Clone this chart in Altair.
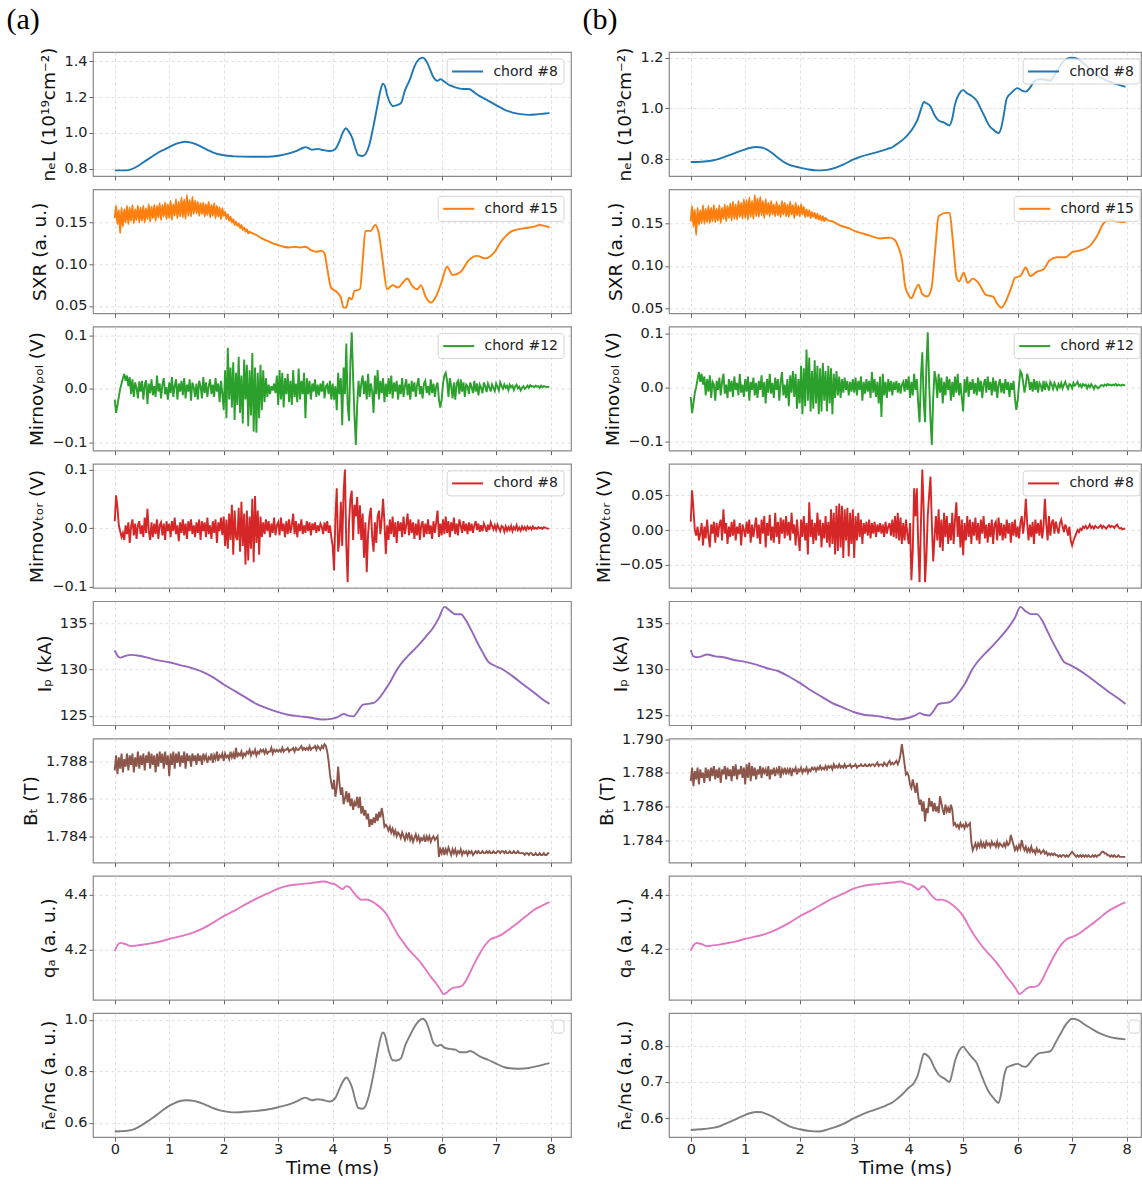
import altair as alt
import pandas as pd

FONT = "DejaVu Sans"
DT = 0.025

# ======================= column (a) =======================
neL_a = [(0.0,0.79),(0.1,0.79),(0.2,0.79),(0.3,0.795),(0.4,0.81),(0.5,0.83),(0.6,0.85),(0.7,0.87),
         (0.8,0.89),(0.9,0.905),(1.0,0.92),(1.1,0.935),(1.2,0.945),(1.3,0.95),(1.4,0.945),(1.5,0.935),
         (1.6,0.92),(1.7,0.905),(1.8,0.89),(1.9,0.88),(2.0,0.875),(2.2,0.868),(2.5,0.866),(2.8,0.866),
         (3.0,0.872),(3.2,0.885),(3.35,0.9),(3.45,0.915),(3.5,0.92),(3.55,0.915),(3.62,0.905),(3.72,0.91),
         (3.8,0.905),(3.95,0.898),(4.05,0.91),(4.12,0.95),(4.2,1.01),(4.24,1.025),(4.3,1.005),(4.36,0.97),
         (4.42,0.91),(4.47,0.875),(4.55,0.87),(4.6,0.88),(4.67,0.93),(4.75,1.04),(4.82,1.15),(4.88,1.24),
         (4.92,1.275),(4.96,1.26),(5.0,1.21),(5.05,1.17),(5.1,1.15),(5.18,1.155),(5.25,1.165),(5.33,1.24),
         (5.42,1.3),(5.5,1.37),(5.58,1.41),(5.65,1.42),(5.72,1.40),(5.78,1.36),(5.85,1.31),(5.92,1.29),
         (5.98,1.30),(6.03,1.29),(6.1,1.275),(6.2,1.26),(6.3,1.25),(6.4,1.245),(6.5,1.245),(6.6,1.225),
         (6.7,1.205),(6.85,1.18),(7.0,1.155),(7.15,1.13),(7.3,1.113),(7.45,1.104),(7.6,1.10),(7.75,1.103),
         (7.9,1.108),(7.98,1.11)]

sxr_a_noisy = [0.155,0.170,0.148,0.165,0.137,0.168,0.145,0.166,0.150,0.170,
               0.148,0.168,0.152,0.171,0.149,0.166,0.153,0.170,0.150,0.168,
               0.152,0.170,0.150,0.167,0.154,0.172,0.151,0.169,0.155,0.171,
               0.152,0.170,0.156,0.173,0.153,0.171,0.157,0.174,0.154,0.172,
               0.155,0.176,0.153,0.172,0.158,0.178,0.155,0.175,0.157,0.180,
               0.156,0.178,0.154,0.183,0.158,0.177,0.157,0.181,0.160,0.176,
               0.161,0.175,0.158,0.173,0.160,0.174,0.157,0.172,0.159,0.175,
               0.156,0.171,0.158,0.173,0.155,0.170,0.157,0.168,0.154,0.167,
               0.158,0.163,0.154,0.160,0.152,0.157,0.150,0.154,0.147,0.151,
               0.146,0.149,0.143,0.147,0.141,0.144,0.139,0.142,0.137,0.139]
sxr_a_rest = [(2.5,0.138),(2.6,0.135),(2.7,0.131),(2.8,0.128),(2.9,0.125),(3.0,0.123),(3.1,0.121),
              (3.2,0.120),(3.3,0.121),(3.4,0.120),(3.5,0.121),(3.6,0.117),(3.7,0.115),(3.8,0.116),
              (3.85,0.113),(3.9,0.095),(3.97,0.072),(4.05,0.068),(4.15,0.060),(4.2,0.048),(4.25,0.048),
              (4.3,0.060),(4.35,0.058),(4.4,0.068),(4.5,0.070),(4.55,0.103),(4.6,0.140),(4.7,0.140),
              (4.78,0.147),(4.85,0.136),(4.92,0.103),(5.0,0.070),(5.1,0.075),(5.2,0.072),(5.3,0.079),
              (5.37,0.083),(5.45,0.075),(5.55,0.070),(5.62,0.075),(5.7,0.062),(5.8,0.054),(5.9,0.062),
              (6.0,0.079),(6.1,0.097),(6.2,0.087),(6.35,0.091),(6.5,0.105),(6.65,0.110),(6.8,0.107),
              (6.95,0.113),(7.1,0.128),(7.3,0.140),(7.5,0.143),(7.7,0.145),(7.8,0.147),(7.98,0.144)]

mirnov_pol_a_mV = [
    -20,-45,-30,-15,0,10,20,28,15,25, 5,22,-10,18,-15,12,2,-18,14,-5,
    15,-20,8,16,-28,10,-8,18,-12,5, -15,25,-5,10,-18,8,20,-10,3,-20,
    12,-8,22,-15,5,18,-20,10,-5,15, -12,20,-18,8,-5,18,-22,12,3,-15,
    10,-20,15,5,-18,22,-8,12,-15,5, 18,-10,8,-15,20,-5,10,-25,15,-10,
    -40,35,-55,77,-20,40,-35,50,-58,30, -30,60,-45,25,-65,55,-20,45,-70,35,
    -50,67,-80,40,-82,30,-55,45,-40,35, -25,20,-15,8,-10,5,-3,10,-8,25,
    -30,35,-20,30,-35,20,-10,28,-25,15, -30,35,-15,10,-25,38,-20,15,-10,30,
    -55,20,-10,15,-20,10,-5,18,-15,8, -12,10,-5,15,-18,5,8,-10,15,-20,
    10,-20,5,-40,30,-10,20,-68,40,-10, 85,-30,-60,50,106,20,-50,-105,-30,15,
    -15,10,25,-10,15,-20,28,-15,10,-5, -45,25,-10,35,-20,15,-8,20,-25,10,
    -15,20,-10,25,-18,12,-5,15,-20,8, -10,20,-15,5,18,-12,10,-20,15,-5,
    12,-15,8,20,-10,5,-18,10,15,-8, 5,-12,18,-8,10,-15,5,12,-20,-35,
    -20,10,25,30,15,-15,20,5,-18,12, -20,10,15,-10,18,-5,12,-15,8,5,
    -10,12,3,-8,15,-5,10,-12,8,2, -8,12,5,-6,10,3,-5,8,2,-4,
    10,4,-3,12,5,0,8,2,6,-2, 8,3,6,-2,5,8,1,4,-3,2,
    5,0,3,6,2,7,4,5,3,6, 4,5,2,6,3,5,4,3,4,3]

mirnov_tor_a_mV = [
    12,56,35,5,-5,-15,-8,-20,5,-10, 10,-25,3,15,-12,8,-18,5,12,-10,
    5,-15,18,-8,33,-5,-20,10,-15,8, -10,15,-18,5,10,-12,8,-20,12,-5,
    8,-15,12,-5,18,-10,5,-22,10,-8, 15,-12,8,-18,12,-5,15,-10,5,-15,
    10,-8,15,-20,12,-5,10,-15,18,-10, 5,-18,12,-8,15,-25,10,-5,18,-12,
    20,-30,15,-35,25,-20,40,-45,30,-15, -20,35,-40,45,-30,25,-62,30,-55,20,
    -35,50,-58,55,-25,30,-45,20,-15,10, -10,15,-5,12,-15,8,-8,18,-12,5,
    10,-12,18,-5,8,-15,12,-10,15,-8, 5,25,-10,12,-15,8,-5,15,-10,5,
    -8,12,-5,10,-12,8,-3,10,-8,5, -5,8,3,-10,10,-5,12,-8,5,-15,
    -30,-72,20,68,-40,-20,45,-30,60,100, -30,-92,10,50,64,-20,40,20,53,-10,
    39,-20,25,-50,10,-75,-10,20,35,-15, -40,10,-25,20,30,-10,15,50,10,-44,
    5,-20,15,-10,20,-15,10,-25,12,-5, 10,-15,20,-10,5,25,-12,15,-8,10,
    -18,8,-12,15,-20,5,12,-15,8,-10, 15,-10,5,-18,12,-8,10,30,-15,8,
    -12,15,-10,20,-8,12,-15,10,-5,18, -10,8,-12,15,5,-8,12,-5,8,-10,
    10,-5,8,-8,5,12,-3,8,-6,5, -5,8,2,-6,6,-3,10,4,-2,5,
    -3,6,0,-5,4,2,-6,3,-4,2, -3,4,-5,2,-2,5,-3,1,-4,3,
    -2,2,-3,3,-1,2,-2,3,-1,1, -1,2,0,1,-1,2,1,0,-1,0]

ip_a = [(0.0,132.1),(0.05,131.5),(0.1,131.3),(0.2,131.5),(0.3,131.6),(0.45,131.5),(0.6,131.3),(0.8,131.0),
        (1.0,130.8),(1.2,130.5),(1.4,130.2),(1.6,129.8),(1.8,129.2),(2.0,128.4),(2.2,127.7),(2.4,127.0),
        (2.6,126.3),(2.8,125.8),(3.0,125.4),(3.2,125.1),(3.4,124.95),(3.6,124.8),(3.8,124.6),(4.0,124.7),
        (4.1,124.9),(4.2,125.2),(4.3,125.0),(4.38,124.95),(4.45,125.4),(4.55,126.2),(4.65,126.3),(4.75,126.4),
        (4.85,126.9),(4.95,127.7),(5.05,128.6),(5.15,129.7),(5.25,130.6),(5.4,131.6),(5.55,132.5),(5.7,133.5),
        (5.85,134.6),(5.95,135.6),(6.05,136.8),(6.15,136.4),(6.25,136.0),(6.35,136.0),(6.45,135.3),(6.55,134.2),
        (6.65,133.0),(6.75,131.9),(6.85,130.9),(6.95,130.5),(7.1,130.1),(7.3,129.3),(7.5,128.4),(7.7,127.5),
        (7.85,126.8),(7.98,126.3)]

bt_a = [
    1.7875,1.7883,1.7873,1.7882,1.7876,1.7884,1.7874,1.7881,1.7877,1.7884,
    1.7875,1.7883,1.7878,1.7884,1.7874,1.7882,1.7877,1.7885,1.7876,1.7883,
    1.7878,1.7884,1.7875,1.7883,1.7879,1.7885,1.7876,1.7884,1.7878,1.7883,
    1.7874,1.7884,1.7877,1.7885,1.7879,1.7884,1.7876,1.7885,1.7878,1.7883,
    1.7872,1.7884,1.7878,1.7885,1.7876,1.7884,1.7879,1.7885,1.7877,1.7883,
    1.7879,1.7885,1.7876,1.7884,1.7880,1.7883,1.7877,1.7884,1.7880,1.7883,
    1.7878,1.7884,1.7880,1.7883,1.7878,1.7884,1.7881,1.7883,1.7879,1.7882,
    1.7881,1.7884,1.7879,1.7883,1.7881,1.7885,1.7880,1.7883,1.7882,1.7884,
    1.7880,1.7884,1.7882,1.7883,1.7881,1.7885,1.7882,1.7884,1.7881,1.7887,
    1.7882,1.7884,1.7883,1.7885,1.7882,1.7884,1.7883,1.7885,1.7884,1.7886,
    1.7883,1.7885,1.7884,1.7886,1.7883,1.7885,1.7884,1.7886,1.7885,1.7886,
    1.7884,1.7886,1.7884,1.7885,1.7885,1.7887,1.7884,1.7886,1.7885,1.7886,
    1.7885,1.7886,1.7885,1.7887,1.7885,1.7886,1.7886,1.7887,1.7885,1.7886,
    1.7886,1.7887,1.7885,1.7887,1.7886,1.7886,1.7887,1.7888,1.7886,1.7887,
    1.7886,1.7887,1.7886,1.7888,1.7886,1.7887,1.7887,1.7888,1.7886,1.7888,
    1.7887,1.7886,1.7888,1.7887,1.7889,1.7888,1.7885,1.7880,1.7873,1.7868,
    1.7865,1.7870,1.7861,1.7866,1.7877,1.7868,1.7862,1.7866,1.7857,1.7860,
    1.7864,1.7858,1.7863,1.7856,1.7860,1.7854,1.7858,1.7856,1.7861,1.7855,
    1.7861,1.7852,1.7856,1.7851,1.7854,1.7849,1.7852,1.7845,1.7849,1.7846,
    1.7850,1.7847,1.7852,1.7848,1.7853,1.7850,1.7855,1.7851,1.7845,1.7846,
    1.7845,1.7843,1.7845,1.7842,1.7844,1.7841,1.7843,1.7840,1.7842,1.7841,
    1.7839,1.7842,1.7840,1.7838,1.7841,1.7839,1.7842,1.7838,1.7840,1.7837,
    1.7839,1.7841,1.7838,1.7840,1.7837,1.7839,1.7838,1.7840,1.7837,1.7840,
    1.7838,1.7840,1.7837,1.7839,1.7840,1.7838,1.7839,1.7840,1.7829,1.7833,
    1.7831,1.7834,1.7830,1.7833,1.7831,1.7834,1.7832,1.7830,1.7833,1.7831,
    1.7833,1.7830,1.7832,1.7831,1.7833,1.7830,1.7832,1.7831,1.7832,1.7830,
    1.7832,1.7831,1.7832,1.7830,1.7831,1.7832,1.7831,1.7832,1.7831,1.7831,
    1.7832,1.7831,1.7831,1.7832,1.7831,1.7832,1.7831,1.7831,1.7832,1.7831,
    1.7831,1.7832,1.7832,1.7831,1.7832,1.7832,1.7831,1.7832,1.7831,1.7831,
    1.7832,1.7831,1.7831,1.7832,1.7831,1.7831,1.7832,1.7831,1.7831,1.7831,
    1.7831,1.7830,1.7831,1.7831,1.7830,1.7831,1.7831,1.7830,1.7830,1.7831,
    1.7830,1.7830,1.7831,1.7830,1.7830,1.7831,1.7830,1.7830,1.7831,1.7831]

qa_a = [(0.0,4.194),(0.05,4.215),(0.1,4.224),(0.2,4.219),(0.3,4.212),(0.4,4.214),(0.5,4.217),(0.6,4.22),
        (0.8,4.227),(1.0,4.238),(1.2,4.248),(1.4,4.259),(1.6,4.275),(1.8,4.297),(2.0,4.322),(2.2,4.342),
        (2.4,4.365),(2.6,4.386),(2.8,4.404),(3.0,4.423),(3.2,4.434),(3.4,4.439),(3.6,4.443),(3.75,4.447),
        (3.85,4.449),(3.95,4.443),(4.05,4.437),(4.12,4.428),(4.18,4.421),(4.25,4.432),(4.3,4.429),(4.37,4.412),
        (4.45,4.393),(4.52,4.382),(4.6,4.383),(4.7,4.378),(4.8,4.365),(4.9,4.349),(5.0,4.325),(5.1,4.288),
        (5.2,4.253),(5.3,4.225),(5.4,4.198),(5.5,4.177),(5.6,4.155),(5.7,4.128),(5.8,4.1),(5.9,4.075),
        (5.97,4.055),(6.03,4.036),(6.08,4.04),(6.15,4.052),(6.22,4.06),(6.3,4.062),(6.38,4.068),(6.45,4.087),
        (6.52,4.115),(6.6,4.148),(6.7,4.185),(6.8,4.216),(6.9,4.237),(7.0,4.245),(7.1,4.254),(7.2,4.268),
        (7.3,4.283),(7.4,4.298),(7.5,4.314),(7.6,4.33),(7.7,4.345),(7.8,4.356),(7.9,4.366),(7.98,4.373)]

ngw_a = [(0.0,0.567),(0.1,0.568),(0.2,0.569),(0.3,0.572),(0.4,0.58),(0.5,0.592),(0.6,0.606),(0.7,0.62),
         (0.8,0.636),(0.9,0.652),(1.0,0.666),(1.1,0.677),(1.2,0.685),(1.3,0.688),(1.4,0.687),(1.5,0.683),
         (1.6,0.676),(1.7,0.667),(1.8,0.658),(1.9,0.651),(2.0,0.646),(2.2,0.641),(2.5,0.645),(2.8,0.652),
         (3.0,0.661),(3.2,0.672),(3.35,0.685),(3.45,0.695),(3.5,0.698),(3.55,0.694),(3.62,0.688),(3.72,0.692),
         (3.8,0.69),(3.95,0.683),(4.05,0.697),(4.12,0.73),(4.2,0.765),(4.25,0.776),(4.3,0.765),(4.36,0.735),
         (4.42,0.685),(4.47,0.658),(4.55,0.655),(4.6,0.665),(4.67,0.71),(4.75,0.79),(4.82,0.87),(4.88,0.93),
         (4.92,0.951),(4.96,0.94),(5.0,0.905),(5.05,0.865),(5.1,0.843),(5.18,0.842),(5.25,0.85),(5.33,0.9),
         (5.42,0.94),(5.5,0.972),(5.58,0.995),(5.65,1.004),(5.72,0.99),(5.78,0.955),(5.85,0.91),(5.92,0.898),
         (5.98,0.903),(6.05,0.892),(6.15,0.887),(6.25,0.884),(6.35,0.874),(6.45,0.874),(6.52,0.879),(6.6,0.872),
         (6.7,0.858),(6.85,0.845),(7.0,0.83),(7.15,0.816),(7.3,0.811),(7.45,0.81),(7.6,0.813),(7.75,0.82),
         (7.9,0.828),(7.98,0.832)]

# ======================= column (b) =======================
neL_b = [(0.0,0.789),(0.2,0.79),(0.4,0.795),(0.5,0.80),(0.6,0.807),(0.8,0.823),(1.0,0.839),(1.1,0.845),
         (1.2,0.848),(1.3,0.846),(1.4,0.838),(1.5,0.823),(1.6,0.806),(1.7,0.79),(1.8,0.779),(2.0,0.767),
         (2.15,0.76),(2.3,0.756),(2.5,0.758),(2.65,0.766),(2.8,0.779),(3.0,0.80),(3.15,0.812),(3.3,0.821),
         (3.45,0.83),(3.6,0.84),(3.7,0.847),(3.8,0.862),(3.9,0.878),(4.0,0.90),(4.1,0.93),(4.17,0.96),
         (4.23,1.0),(4.28,1.025),(4.33,1.02),(4.4,1.008),(4.47,0.975),(4.55,0.952),(4.65,0.944),(4.75,0.933),
         (4.8,0.96),(4.85,1.016),(4.92,1.055),(5.0,1.072),(5.07,1.06),(5.15,1.05),(5.25,1.03),(5.32,1.0),
         (5.4,0.965),(5.48,0.932),(5.56,0.915),(5.65,0.903),(5.7,0.925),(5.75,0.98),(5.8,1.04),(5.88,1.06),
         (6.0,1.08),(6.08,1.07),(6.15,1.066),(6.22,1.08),(6.3,1.105),(6.4,1.115),(6.5,1.114),(6.6,1.11),
         (6.7,1.14),(6.8,1.175),(6.9,1.195),(7.0,1.20),(7.1,1.195),(7.2,1.18),(7.35,1.15),(7.5,1.125),
         (7.65,1.108),(7.8,1.097),(7.98,1.085)]

sxr_b_noisy = [0.152,0.170,0.146,0.166,0.136,0.168,0.148,0.165,0.150,0.171,
               0.149,0.167,0.151,0.170,0.150,0.168,0.152,0.171,0.151,0.167,
               0.153,0.171,0.150,0.168,0.155,0.172,0.152,0.170,0.156,0.173,
               0.153,0.175,0.155,0.172,0.154,0.176,0.157,0.174,0.155,0.178,
               0.156,0.177,0.154,0.180,0.157,0.176,0.155,0.183,0.158,0.179,
               0.157,0.181,0.159,0.176,0.156,0.178,0.160,0.174,0.158,0.176,
               0.160,0.172,0.158,0.175,0.159,0.171,0.157,0.176,0.160,0.174,
               0.158,0.172,0.157,0.175,0.160,0.171,0.156,0.174,0.159,0.170,
               0.158,0.172,0.160,0.169,0.157,0.166,0.158,0.165,0.156,0.163,
               0.157,0.162,0.155,0.161,0.154,0.159,0.153,0.158,0.152,0.156]
sxr_b_rest = [(2.5,0.154),(2.6,0.152),(2.75,0.147),(2.9,0.144),(3.0,0.141),(3.15,0.138),(3.3,0.135),
              (3.48,0.132),(3.65,0.133),(3.75,0.130),(3.81,0.122),(3.88,0.106),(3.93,0.078),(3.98,0.068),
              (4.05,0.062),(4.11,0.070),(4.18,0.078),(4.25,0.067),(4.34,0.064),(4.42,0.074),(4.48,0.114),
              (4.55,0.158),(4.68,0.162),(4.75,0.162),(4.81,0.130),(4.88,0.086),(4.93,0.082),(5.01,0.092),
              (5.08,0.080),(5.18,0.085),(5.28,0.080),(5.42,0.066),(5.55,0.064),(5.62,0.056),(5.7,0.051),
              (5.78,0.058),(5.88,0.074),(5.95,0.086),(6.05,0.088),(6.15,0.098),(6.23,0.088),(6.35,0.093),
              (6.48,0.096),(6.58,0.106),(6.72,0.110),(6.88,0.110),(7.0,0.116),(7.15,0.118),(7.32,0.123),
              (7.45,0.134),(7.58,0.150),(7.68,0.154),(7.8,0.152),(7.98,0.151)]

mirnov_pol_b_mV = [
    -18,-48,-30,-10,0,15,28,10,25,5, 20,-15,15,-8,22,-20,10,5,-25,12,
    -5,18,-15,10,25,-12,5,-20,15,-8, 12,-18,20,-5,8,-15,25,-10,5,-18,
    15,-8,20,-25,10,-5,18,-15,8,-20, 12,-5,22,-18,10,-30,15,-10,25,-12,
    8,-20,18,-5,15,-25,10,28,-15,5, -20,15,-35,22,-10,30,-18,25,-40,15,
    -30,40,-50,35,-35,70,-25,55,-45,30, -40,50,-30,40,-50,35,-45,45,-25,30,
    -45,40,-30,35,-50,25,-20,30,-15,20, -20,15,-10,18,-5,12,-15,10,-8,15,
    -10,18,-15,12,-5,20,-25,10,-12,15, -8,12,-20,28,-10,15,-18,10,-30,20,
    -55,25,-15,10,-20,15,-8,12,-15,10, -5,12,-10,8,-12,5,10,-8,15,-5,
    20,-20,10,-15,25,-5,15,-30,-65,20, 65,-25,-65,40,102,10,-60,-107,-20,30,
    15,-20,25,-10,18,-30,10,-15,20,-5, 15,-25,10,-18,20,-10,25,-15,8,-20,
    -45,15,-10,20,-18,10,-5,15,-12,8, -15,18,-8,12,-20,5,15,-10,20,-5,
    10,-15,18,-8,12,-20,5,15,-10,8, -12,15,-5,10,-18,8,-5,12,-20,-42,
    -25,5,30,25,10,-10,5,25,15,-5, 10,-8,15,-5,12,-10,8,3,-8,12,
    -5,8,2,-6,10,5,-3,8,2,-4, 6,0,8,-2,5,10,2,-3,6,4,
    -2,8,3,6,10,2,5,0,6,3, 5,-2,4,0,6,2,-3,3,1,-2,
    0,3,4,2,5,3,6,4,5,3, 5,4,6,3,5,4,3,5,4,3]

mirnov_tor_b_mV = [
    12,57,30,0,-8,5,-15,-5,10,-22, 5,-12,15,-8,-25,8,-5,12,-18,10,
    -10,8,15,-15,30,-5,10,-20,5,-10, 12,-8,15,-15,5,-5,10,-22,8,0,
    -10,12,-5,15,-18,8,-10,5,18,-12, 8,-20,15,-5,20,-25,10,-8,22,-15,
    5,-18,25,-10,12,-20,18,-5,15,-12, 20,-8,12,-15,25,-5,8,-22,15,-10,
    -30,15,-10,20,-15,10,-35,40,-10,15, -20,10,-15,25,-8,15,-25,10,-12,20,
    -18,12,-25,30,-20,25,-35,35,-30,38, -25,35,-40,30,-15,32,-38,25,-20,30,
    -40,20,-15,25,-10,15,-20,10,-5,12, -8,15,-12,10,-5,12,-10,8,-3,10,
    -5,8,-10,12,-5,5,10,-8,15,-10, 20,-12,25,-15,18,-20,10,-15,15,-5,
    -20,10,-72,-30,60,20,60,-20,-75,10, 87,30,-75,-40,20,50,77,10,-45,-10,
    20,-15,30,-25,15,-30,25,-10,20,-20, 10,-15,25,-20,15,40,-10,20,-25,15,
    -36,10,-15,20,-10,15,-20,12,-8,18, -15,10,-20,15,-5,20,-12,8,-18,10,
    -10,15,-20,8,12,-15,18,-8,10,-15, 8,-12,15,-5,10,-18,12,-8,15,-10,
    5,-12,10,20,-5,12,45,10,-15,8, -10,12,-20,15,-5,10,-8,15,-12,5,
    45,10,-15,20,-8,10,15,-5,12,3, -5,10,15,5,-3,8,2,-8,5,-15,
    -22,-15,-10,-5,0,-3,2,0,5,3, 6,2,4,8,3,5,2,6,4,3,
    5,7,3,6,4,2,5,7,4,6, 5,3,6,8,4,2,3,1,2,2]

ip_b = [(0.0,132.1),(0.05,131.4),(0.1,131.3),(0.2,131.4),(0.3,131.6),(0.45,131.4),(0.6,131.3),(0.8,131.0),
        (1.0,130.8),(1.2,130.5),(1.4,130.1),(1.6,129.8),(1.8,129.2),(2.0,128.5),(2.2,127.7),(2.4,127.0),
        (2.6,126.3),(2.8,125.8),(3.0,125.3),(3.2,125.0),(3.4,124.9),(3.6,124.7),(3.8,124.5),(4.0,124.7),
        (4.1,124.9),(4.2,125.2),(4.3,125.0),(4.38,124.95),(4.45,125.4),(4.55,126.2),(4.65,126.3),(4.75,126.4),
        (4.85,126.9),(4.95,127.7),(5.05,128.6),(5.15,129.8),(5.25,130.7),(5.4,131.7),(5.55,132.6),(5.7,133.6),
        (5.85,134.7),(5.95,135.6),(6.05,136.8),(6.15,136.3),(6.25,136.0),(6.35,136.0),(6.45,135.3),(6.55,134.1),
        (6.65,132.9),(6.75,131.8),(6.85,130.8),(6.95,130.5),(7.1,130.0),(7.3,129.2),(7.5,128.3),(7.7,127.4),
        (7.85,126.8),(7.98,126.2)]

bt_b = [
    1.7875,1.7883,1.7872,1.7881,1.7876,1.7883,1.7873,1.7882,1.7877,1.7880,
    1.7874,1.7883,1.7877,1.7882,1.7875,1.7883,1.7878,1.7884,1.7876,1.7882,
    1.7877,1.7883,1.7874,1.7882,1.7879,1.7884,1.7876,1.7883,1.7878,1.7882,
    1.7875,1.7884,1.7878,1.7885,1.7876,1.7882,1.7879,1.7884,1.7877,1.7883,
    1.7873,1.7885,1.7877,1.7886,1.7875,1.7884,1.7878,1.7883,1.7876,1.7882,
    1.7879,1.7884,1.7877,1.7883,1.7880,1.7882,1.7878,1.7884,1.7876,1.7882,
    1.7879,1.7883,1.7878,1.7882,1.7880,1.7884,1.7877,1.7882,1.7880,1.7883,
    1.7879,1.7882,1.7880,1.7883,1.7878,1.7882,1.7881,1.7883,1.7879,1.7882,
    1.7881,1.7883,1.7880,1.7882,1.7881,1.7883,1.7880,1.7882,1.7881,1.7883,
    1.7882,1.7883,1.7881,1.7883,1.7882,1.7884,1.7882,1.7883,1.7882,1.7884,
    1.7882,1.7884,1.7883,1.7884,1.7882,1.7885,1.7883,1.7884,1.7883,1.7885,
    1.7883,1.7884,1.7883,1.7885,1.7883,1.7884,1.7884,1.7885,1.7883,1.7884,
    1.7884,1.7885,1.7883,1.7884,1.7884,1.7885,1.7884,1.7884,1.7885,1.7884,
    1.7884,1.7885,1.7884,1.7885,1.7885,1.7884,1.7885,1.7886,1.7884,1.7885,
    1.7885,1.7884,1.7886,1.7885,1.7884,1.7886,1.7887,1.7885,1.7886,1.7885,
    1.7886,1.7887,1.7885,1.7887,1.7891,1.7897,1.7891,1.7885,1.7879,1.7880,
    1.7878,1.7873,1.7871,1.7876,1.7872,1.7868,1.7874,1.7866,1.7861,1.7864,
    1.7857,1.7863,1.7851,1.7859,1.7856,1.7865,1.7860,1.7863,1.7857,1.7862,
    1.7857,1.7860,1.7856,1.7866,1.7862,1.7858,1.7855,1.7861,1.7857,1.7859,
    1.7856,1.7861,1.7858,1.7849,1.7850,1.7848,1.7849,1.7847,1.7850,1.7848,
    1.7849,1.7847,1.7850,1.7848,1.7849,1.7850,1.7839,1.7834,1.7836,1.7838,
    1.7835,1.7838,1.7836,1.7839,1.7836,1.7838,1.7835,1.7839,1.7837,1.7838,
    1.7836,1.7839,1.7837,1.7838,1.7836,1.7839,1.7836,1.7838,1.7837,1.7836,
    1.7838,1.7836,1.7839,1.7837,1.7838,1.7843,1.7840,1.7837,1.7834,1.7836,
    1.7834,1.7837,1.7835,1.7840,1.7836,1.7834,1.7836,1.7833,1.7835,1.7833,
    1.7836,1.7833,1.7834,1.7832,1.7835,1.7833,1.7834,1.7832,1.7833,1.7834,
    1.7832,1.7833,1.7831,1.7832,1.7831,1.7832,1.7831,1.7832,1.7831,1.7831,
    1.7830,1.7831,1.7830,1.7831,1.7831,1.7830,1.7831,1.7830,1.7831,1.7832,
    1.7833,1.7832,1.7831,1.7830,1.7831,1.7830,1.7831,1.7830,1.7831,1.7830,
    1.7831,1.7830,1.7831,1.7830,1.7830,1.7831,1.7830,1.7831,1.7830,1.7831,
    1.7831,1.7832,1.7833,1.7833,1.7832,1.7832,1.7831,1.7831,1.7830,1.7831,
    1.7830,1.7831,1.7830,1.7830,1.7831,1.7830,1.7830,1.7830,1.7830,1.7830]

qa_b = [(0.0,4.195),(0.05,4.214),(0.1,4.223),(0.2,4.219),(0.3,4.211),(0.4,4.214),(0.5,4.216),(0.6,4.22),
        (0.8,4.227),(1.0,4.238),(1.2,4.247),(1.4,4.258),(1.6,4.275),(1.8,4.296),(2.0,4.321),(2.2,4.342),
        (2.4,4.365),(2.6,4.387),(2.8,4.405),(3.0,4.424),(3.2,4.435),(3.4,4.44),(3.6,4.444),(3.75,4.447),
        (3.85,4.45),(3.95,4.443),(4.05,4.437),(4.12,4.428),(4.18,4.42),(4.25,4.432),(4.3,4.428),(4.37,4.411),
        (4.45,4.392),(4.52,4.382),(4.6,4.383),(4.7,4.377),(4.8,4.364),(4.9,4.347),(5.0,4.322),(5.1,4.286),
        (5.2,4.252),(5.3,4.224),(5.4,4.198),(5.5,4.176),(5.6,4.153),(5.7,4.127),(5.8,4.098),(5.9,4.073),
        (5.97,4.053),(6.03,4.034),(6.08,4.04),(6.15,4.052),(6.22,4.06),(6.3,4.061),(6.38,4.067),(6.45,4.087),
        (6.52,4.116),(6.6,4.149),(6.7,4.186),(6.8,4.217),(6.9,4.237),(7.0,4.245),(7.1,4.254),(7.2,4.268),
        (7.3,4.283),(7.4,4.298),(7.5,4.314),(7.6,4.331),(7.7,4.345),(7.8,4.356),(7.9,4.366),(7.98,4.373)]

ngw_b = [(0.0,0.567),(0.2,0.569),(0.4,0.573),(0.5,0.576),(0.6,0.582),(0.8,0.595),(1.0,0.609),(1.1,0.614),
         (1.2,0.617),(1.3,0.616),(1.4,0.611),(1.5,0.604),(1.6,0.595),(1.7,0.586),(1.8,0.578),(2.0,0.569),
         (2.2,0.564),(2.35,0.563),(2.5,0.568),(2.65,0.575),(2.8,0.584),(3.0,0.60),(3.15,0.61),(3.3,0.619),
         (3.45,0.627),(3.6,0.636),(3.7,0.643),(3.8,0.655),(3.9,0.668),(4.0,0.684),(4.1,0.698),(4.17,0.72),
         (4.23,0.755),(4.28,0.778),(4.33,0.775),(4.4,0.763),(4.47,0.74),(4.55,0.72),(4.65,0.71),(4.75,0.70),
         (4.8,0.725),(4.85,0.758),(4.92,0.785),(5.0,0.797),(5.07,0.785),(5.15,0.77),(5.25,0.752),(5.32,0.725),
         (5.4,0.695),(5.48,0.67),(5.56,0.655),(5.65,0.642),(5.7,0.67),(5.75,0.715),(5.8,0.74),(5.88,0.745),
         (6.0,0.75),(6.08,0.744),(6.15,0.742),(6.22,0.752),(6.3,0.768),(6.4,0.78),(6.5,0.782),(6.6,0.785),
         (6.7,0.81),(6.8,0.837),(6.9,0.862),(7.0,0.875),(7.1,0.872),(7.2,0.862),(7.35,0.848),(7.5,0.835),
         (7.65,0.826),(7.8,0.821),(7.98,0.818)]

# ---- labels ----
titles = ["nₑL (10¹⁹cm⁻²)", "SXR (a. u.)", "Mirnovₚₒₗ (V)", "Mirnovₜₒᵣ (V)",
          "Iₚ (kA)", "Bₜ (T)", "qₐ (a. u.)", "n\u0304ₑ/n\u0262 (a. u.)"]
legend_labels = ["chord #8", "chord #15", "chord #12", "chord #8", None, None, None, ""]
colors = ["#1f77b4", "#ff7f0e", "#2ca02c", "#d62728", "#9467bd", "#8c564b", "#e377c2", "#7f7f7f"]
x_ticks = [0, 1, 2, 3, 4, 5, 6, 7, 8]

W_L, W_R, H = 478, 472, 124
R_VIRT = 478                      # right edge of the (partly cropped) panel frame
XDOM_L = [-0.399, 8.374]
XDOM_R = [-0.399, 8.264]
DUMMY = pd.DataFrame({"k": [0]})
EM = {"c": .55, "h": .634, "o": .612, "r": .411, "d": .635, " ": .318, "#": .838}


def on_grid(vals, scale=1.0):
    return [(round(i * DT, 4), v * scale) for i, v in enumerate(vals)]


def panel(data, idx, col, yticks, yfmt, interp="monotone", tag=None):
    width = W_L if col == 0 else W_R
    xdom = XDOM_L if col == 0 else XDOM_R
    last = idx == 7
    color = colors[idx]
    df = pd.DataFrame(data, columns=["t", "v"])
    lo, hi = df["v"].min(), df["v"].max()
    pad = 0.05 * (hi - lo)
    x = alt.X("t:Q", scale=alt.Scale(domain=xdom, nice=False, zero=False),
              axis=alt.Axis(values=x_ticks, labels=last, format="d", labelPadding=1, titlePadding=3,
                            title="Time (ms)" if last else None))
    y = alt.Y("v:Q", scale=alt.Scale(domain=[lo - pad, hi + pad], nice=False, zero=False),
              axis=alt.Axis(values=yticks, format=yfmt, title=titles[idx]))
    layers = [alt.Chart(df).mark_line(color=color, strokeWidth=1.9, interpolate=interp,
                                      clip=True).encode(x=x, y=y)]
    lab = legend_labels[idx]
    if lab:
        fs = 14
        tw = sum(EM.get(ch, .636) for ch in lab) * fs
        tr = R_VIRT - 13
        tl = tr - tw
        lx2 = tl - 10
        lx1 = lx2 - 31
        bl = lx1 - 5
        br = R_VIRT - 7
        layers.append(alt.Chart(DUMMY).mark_rect(fill="white", fillOpacity=0.8, stroke="#d4d4d4",
                                                 strokeWidth=1, cornerRadius=3, clip=True).encode(
            x=alt.value(bl), x2=alt.value(br), y=alt.value(7), y2=alt.value(32)))
        layers.append(alt.Chart(DUMMY).mark_rule(color=color, strokeWidth=2).encode(
            x=alt.value(lx1), x2=alt.value(lx2), y=alt.value(19.5)))
        layers.append(alt.Chart(DUMMY).mark_text(align="right", baseline="middle", font=FONT,
                                                 fontSize=fs, color="#222").encode(
            x=alt.value(tr), y=alt.value(19.5), text=alt.value(lab)))
    elif lab == "":
        layers.append(alt.Chart(DUMMY).mark_rect(fill="white", fillOpacity=0.8, stroke="#d4d4d4",
                                                 strokeWidth=1, cornerRadius=3, clip=True).encode(
            x=alt.value(R_VIRT - 18), x2=alt.value(R_VIRT - 7), y=alt.value(7), y2=alt.value(20)))
    if tag:
        layers.append(alt.Chart(DUMMY).mark_text(align="left", baseline="top", font="Liberation Serif",
                                                 fontSize=30, color="black").encode(
            x=alt.value(-86.5), y=alt.value(-47), text=alt.value(tag)))
    return alt.layer(*layers).properties(width=width, height=H)


left = [
    panel(neL_a, 0, 0, [0.8, 1.0, 1.2, 1.4], ".1f", tag="(a)"),
    panel(on_grid(sxr_a_noisy) + sxr_a_rest, 1, 0, [0.05, 0.10, 0.15], ".2f"),
    panel(on_grid(mirnov_pol_a_mV, 0.001), 2, 0, [-0.1, 0.0, 0.1], ".1f", interp="linear"),
    panel(on_grid(mirnov_tor_a_mV, 0.001), 3, 0, [-0.1, 0.0, 0.1], ".1f", interp="linear"),
    panel(ip_a, 4, 0, [125, 130, 135], "d"),
    panel(on_grid(bt_a), 5, 0, [1.784, 1.786, 1.788], ".3f", interp="linear"),
    panel(qa_a, 6, 0, [4.2, 4.4], ".1f"),
    panel(ngw_a, 7, 0, [0.6, 0.8, 1.0], ".1f"),
]
right = [
    panel(neL_b, 0, 1, [0.8, 1.0, 1.2], ".1f", tag="(b)"),
    panel(on_grid(sxr_b_noisy) + sxr_b_rest, 1, 1, [0.05, 0.10, 0.15], ".2f"),
    panel(on_grid(mirnov_pol_b_mV, 0.001), 2, 1, [-0.1, 0.0, 0.1], ".1f", interp="linear"),
    panel(on_grid(mirnov_tor_b_mV, 0.001), 3, 1, [-0.05, 0.0, 0.05], ".2f", interp="linear"),
    panel(ip_b, 4, 1, [125, 130, 135], "d"),
    panel(on_grid(bt_b), 5, 1, [1.784, 1.786, 1.788, 1.790], ".3f", interp="linear"),
    panel(qa_b, 6, 1, [4.2, 4.4], ".1f"),
    panel(ngw_b, 7, 1, [0.6, 0.7, 0.8], ".1f"),
]

cells = []
for a, b in zip(left, right):
    cells += [a, b]

chart = alt.concat(*cells, columns=2, spacing={"row": 13.3, "column": 98}, bounds="flush").properties(
    padding={"left": 5, "top": 4, "right": 0, "bottom": 6}
).configure_view(
    stroke="#8a8a8a", strokeWidth=1.2
).configure_axis(
    labelFont=FONT, labelFontSize=14.5, labelColor="#222",
    titleFont=FONT, titleFontSize=18.5, titleFontWeight="normal", titleColor="#111",
    tickColor="#666", tickSize=4, tickWidth=1, domain=False,
    grid=True, gridColor="#d8d8d8", gridDash=[3, 3], gridWidth=0.8,
    labelPadding=2, titlePadding=5
)

chart.save("out.html", embed_options={"renderer": "svg", "actions": False})
